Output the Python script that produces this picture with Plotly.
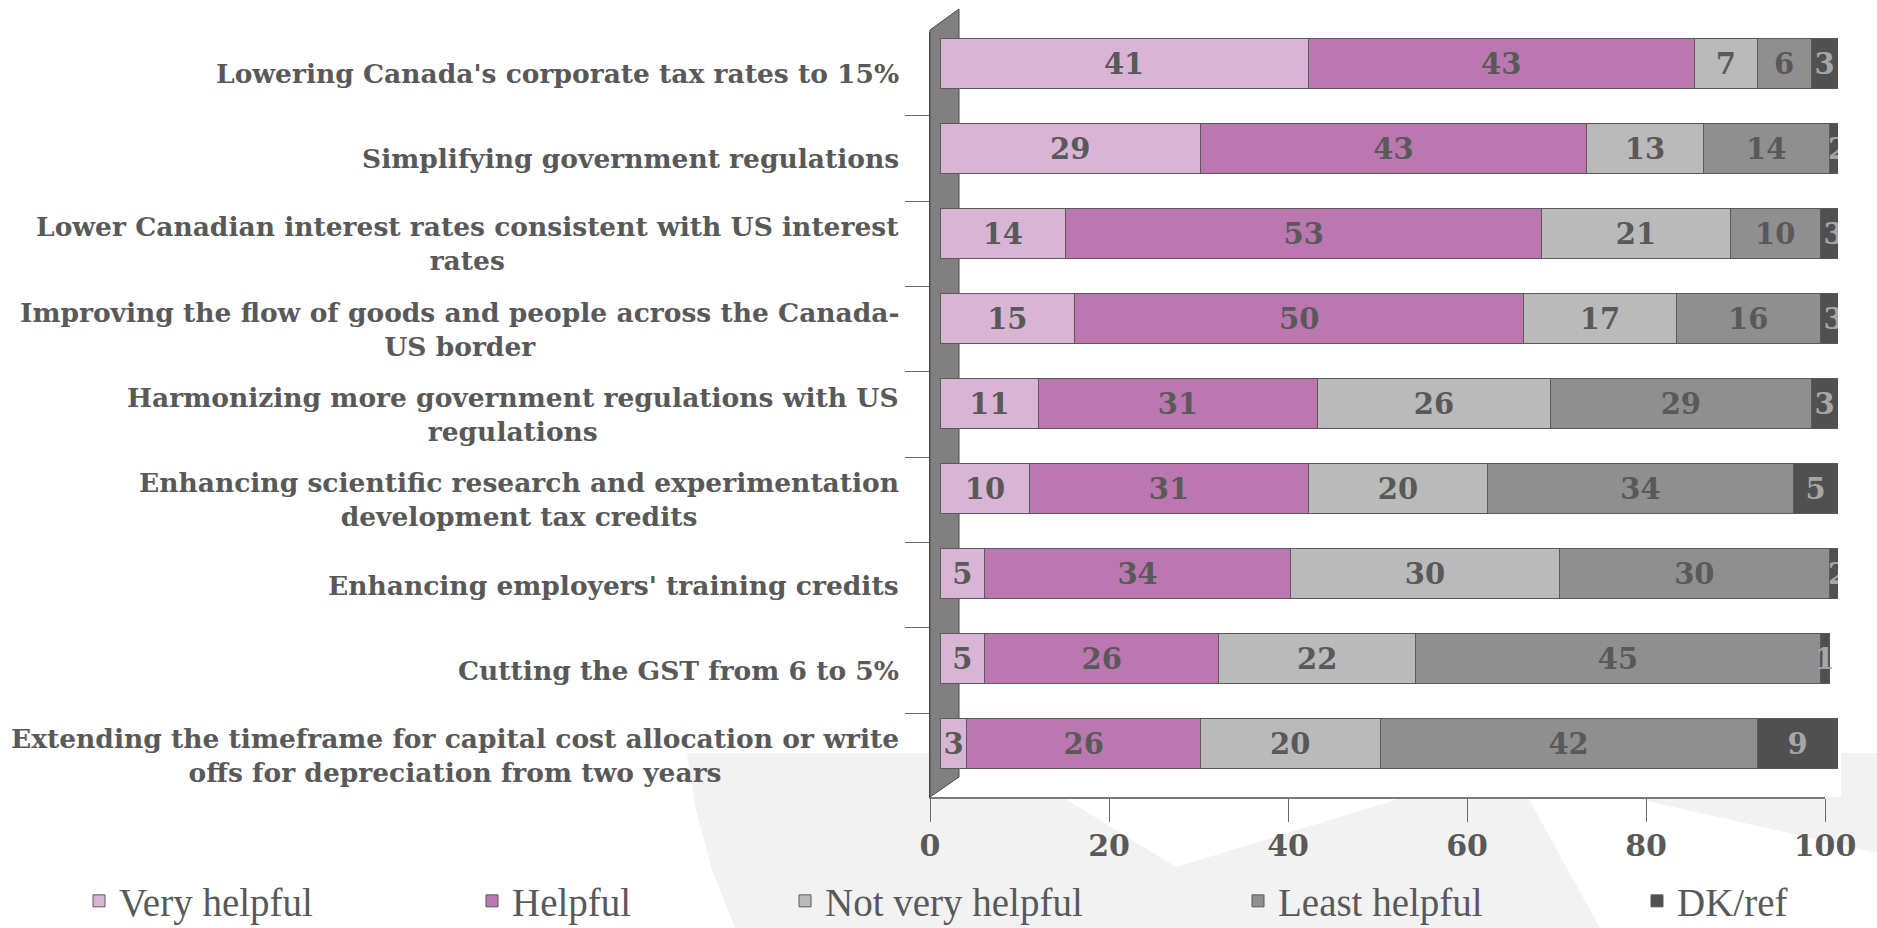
import plotly.graph_objects as go

categories = [
    "Lowering Canada's corporate tax rates to 15%",
    "Simplifying government regulations",
    "Lower Canadian interest rates consistent with US interest<br>rates",
    "Improving the flow of goods and people across the Canada-<br>US border",
    "Harmonizing more government regulations with US<br>regulations",
    "Enhancing scientific research and experimentation<br>development tax credits",
    "Enhancing employers' training credits",
    "Cutting the GST from 6 to 5%",
    "Extending the timeframe for capital cost allocation or write<br>offs for depreciation from two years",
]
very_helpful = [41, 29, 14, 15, 11, 10, 5, 5, 3]
helpful = [43, 43, 53, 50, 31, 31, 34, 26, 26]
not_very_helpful = [7, 13, 21, 17, 26, 20, 30, 22, 20]
least_helpful = [6, 14, 10, 16, 29, 34, 30, 45, 42]
dk_ref = [3, 2, 3, 3, 3, 5, 2, 1, 9]

series_names = ["Very helpful", "Helpful", "Not very helpful", "Least helpful", "DK/ref"]
series_values = [very_helpful, helpful, not_very_helpful, least_helpful, dk_ref]
series_colors = ["#d8b5d4", "#bb77b0", "#bababa", "#8f8f8f", "#505050"]
text_colors = ["#595959", "#595959", "#595959", "#595959", "#a6a6a6"]
x_ticks = [0, 20, 40, 60, 80, 100]

W, H = 1877, 928
ML, MR, MT, MB = 930, 39, 21, 131
PW, PH = W - ML - MR, H - MT - MB


def px(x):
    return (x - ML) / PW


def py(y):
    return (H - MB - y) / PH


LABEL_FONT = "DejaVu Serif"
INK = "#595959"

fig = go.Figure()

# invisible trace to establish the visible category axis
fig.add_trace(go.Scatter(x=[0] * len(categories), y=categories, mode="markers",
                         marker=dict(size=1, opacity=0), showlegend=False,
                         hoverinfo="skip", xaxis="x", yaxis="y"))

legend_text_x = [120, 513, 826, 1279, 1678]
for i, (name, vals, col, tcol) in enumerate(zip(series_names, series_values, series_colors, text_colors)):
    lg = "legend" if i == 0 else f"legend{i + 1}"
    fig.add_trace(go.Bar(
        name=name, y=categories, x=vals, orientation="h",
        xaxis="x2", yaxis="y2",
        marker=dict(color=col, line=dict(color="#5a5a5a", width=1)),
        text=[str(v) for v in vals], textposition="inside",
        insidetextanchor="middle", textangle=0,
        textfont=dict(family=LABEL_FONT, size=29, color=tcol, weight="bold"),
        legend=lg, hoverinfo="x+name",
    ))


def path(points, close=True):
    s = "M " + " L ".join(f"{px(x):.5f},{py(y):.5f}" for x, y in points)
    return s + (" Z" if close else "")


shapes = []
# decorative watermark shapes (background)
left_arm = path([(687, 753), (991, 753), (1176, 867), (1510, 765), (1600, 928),
                 (735, 928), (712, 870), (696, 810)])
right_wedge = path([(1440, 753), (1877, 753), (1877, 853), (1510, 770)])
for p in (left_arm, right_wedge):
    shapes.append(dict(type="path", path=p, xref="paper", yref="paper",
                       fillcolor="#f2f2f2", line=dict(width=0), layer="below"))
# white plot area
shapes.append(dict(type="rect", xref="paper", yref="paper", x0=px(930), x1=px(1841),
                   y0=py(797), y1=py(5), fillcolor="white", line=dict(width=0),
                   layer="below"))
# 3D wall
shapes.append(dict(type="path",
                   path=path([(930, 797), (930, 30), (959, 9), (959, 777)]),
                   xref="paper", yref="paper", fillcolor="#808080",
                   line=dict(color="#4a4a4a", width=1), layer="below"))

annotations = []
for c in categories:
    annotations.append(dict(text=c, xref="paper", x=px(901), xanchor="right",
                            yref="y", y=c, yanchor="middle", align="center",
                            showarrow=False,
                            font=dict(family=LABEL_FONT, size=26.5, color=INK, weight="bold")))

layout = dict(
    width=W, height=H,
    margin=dict(l=ML, r=MR, t=MT, b=MB, pad=0, autoexpand=False),
    paper_bgcolor="white", plot_bgcolor="rgba(0,0,0,0)",
    barmode="stack", bargap=0.405,
    showlegend=True,
    xaxis=dict(domain=[0, 895 / PW], range=[0, 100], tickvals=x_ticks,
               ticks="outside", ticklen=23, tickcolor="#6a6a6a", tickwidth=1,
               showline=True, linecolor="#7a7a7a", linewidth=2,
               showgrid=False, zeroline=False, anchor="y",
               ticklabelstandoff=-2,
               tickfont=dict(family=LABEL_FONT, size=30, color=INK, weight="bold")),
    yaxis=dict(domain=[0, 765 / PH], type="category", categoryorder="array",
               categoryarray=categories, autorange="reversed",
               tickson="boundaries", ticks="outside", ticklen=24,
               tickcolor="#6a6a6a", showticklabels=False, showline=True,
               linecolor="#4a4a4a", linewidth=1, showgrid=False, anchor="x"),
    xaxis2=dict(domain=[10 / PW, 1], range=[0, 100], visible=False, anchor="y2"),
    yaxis2=dict(domain=[11 / PH, 1], type="category", categoryorder="array",
                categoryarray=categories, autorange="reversed", visible=False,
                anchor="x2"),
    uniformtext=dict(mode="show", minsize=29),
    shapes=shapes, annotations=annotations,
    hovermode=False,
)
for i in range(5):
    key = "legend" if i == 0 else f"legend{i + 1}"
    layout[key] = dict(x=(legend_text_x[i] - 41) / W, xanchor="left", xref="container",
                       y=(H - 901) / H, yanchor="middle", yref="container",
                       orientation="h",
                       bgcolor="rgba(0,0,0,0)", borderwidth=0,
                       font=dict(family="Liberation Serif", size=39, color=INK))

fig.update_layout(**layout)
fig.write_html("out.html", config={"displayModeBar": False},
               post_script="document.body.style.margin='0px';")
